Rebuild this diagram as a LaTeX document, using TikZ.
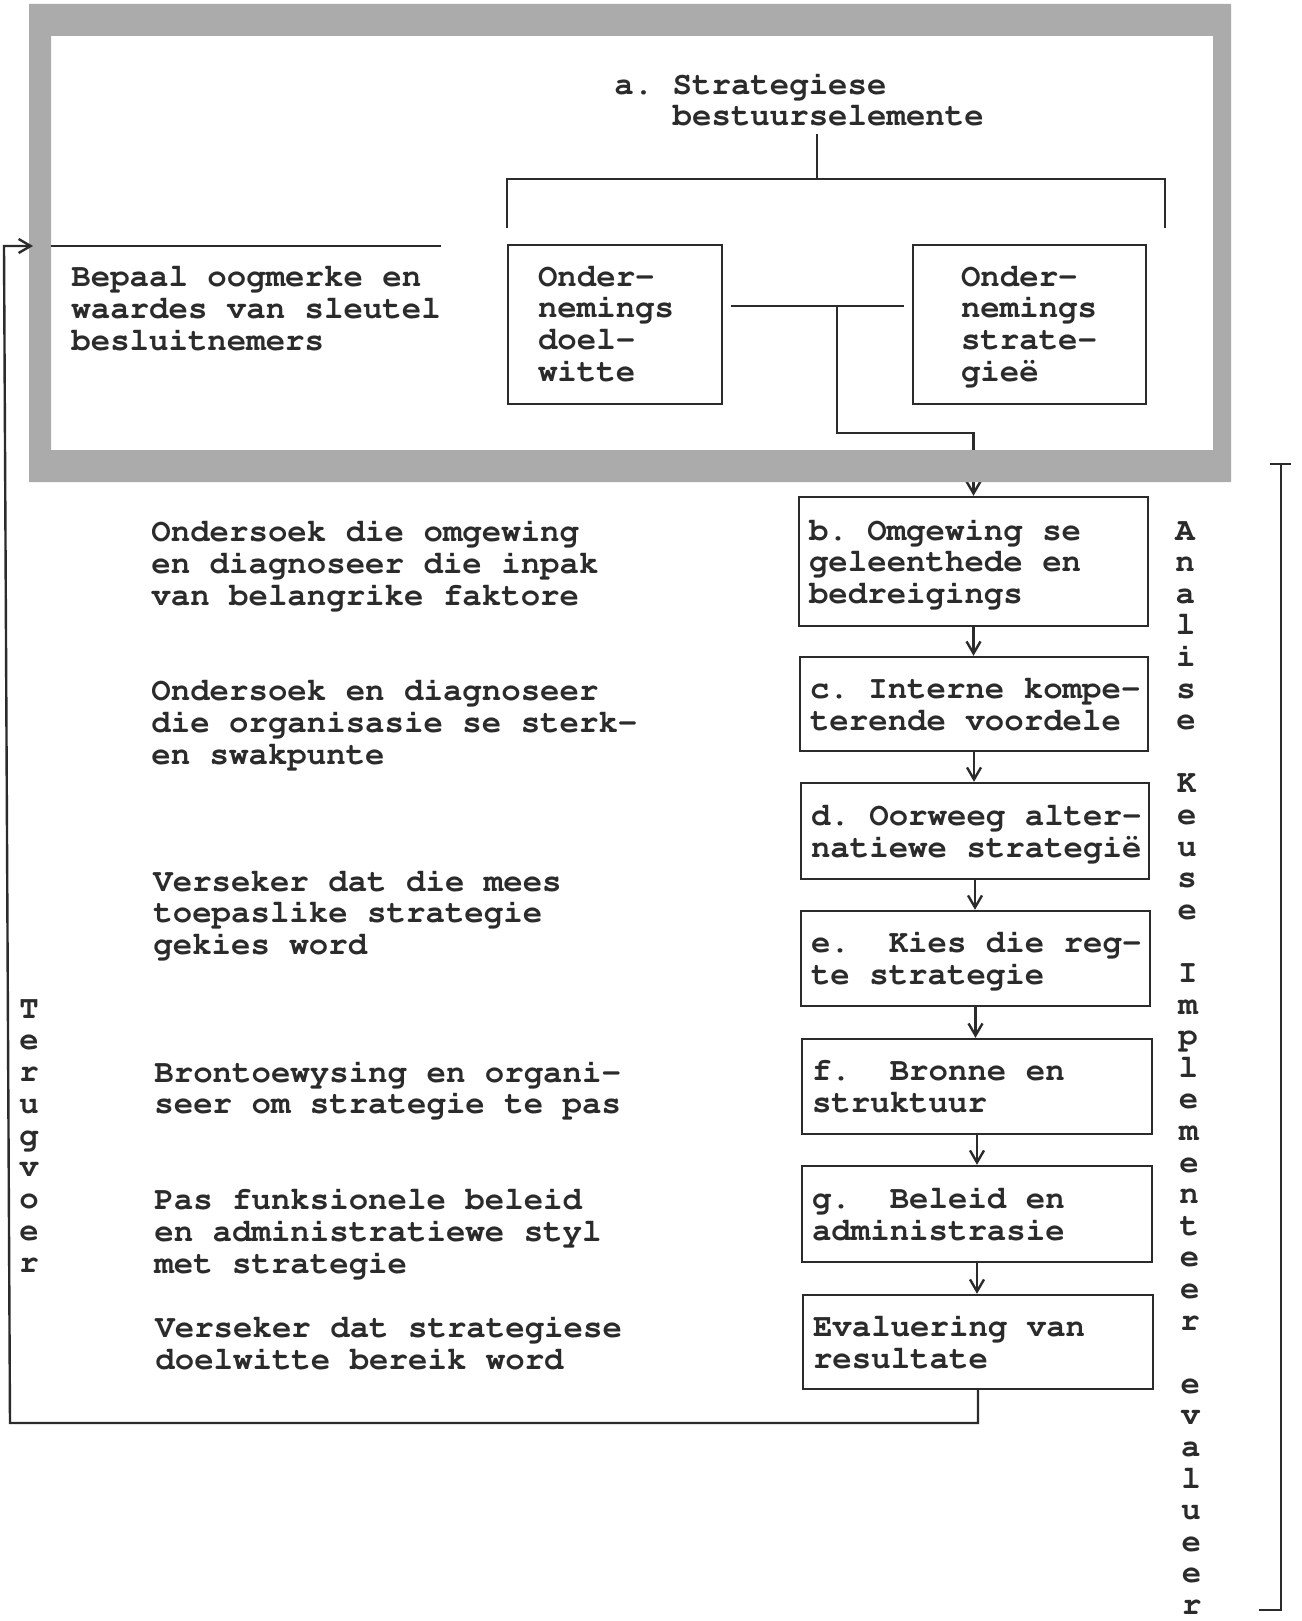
\documentclass[tikz,border=0pt]{standalone}
\usepackage[T1]{fontenc}
\usetikzlibrary{arrows.meta}

\definecolor{ink}{HTML}{2B2B2B}
\definecolor{halftone}{HTML}{ABABAB}
% bold Courier with fixed one-character word spaces
\newcommand\typefont{\fontencoding{T1}\fontfamily{pcr}\fontseries{b}\fontsize{16.2pt}{15.9pt}\selectfont\frenchspacing\spaceskip=0.6em\relax}
% first-line struts that push box text a little lower
\newcommand\boxstrut{\rule{0pt}{15.1pt}}
\newcommand\upstrut{\rule{0pt}{14.1pt}}

\tikzset{
  ln/.style={draw=ink, line width=1.2pt},
  arr/.style={ln, -{Straight Barb[length=6pt,width=7pt]}},
  txt/.style={anchor=north west, inner sep=0pt, align=left, font=\typefont, text=ink},
  stepbox/.style={draw=ink, line width=1.2pt, rectangle, align=flush left, font=\typefont,
    text=ink, inner xsep=5pt, inner ysep=0pt},
  vl/.style={anchor=base, inner sep=0pt, font=\typefont, text=ink},
  frameshade/.style={fill=halftone, even odd rule}
}

\begin{document}
\begin{tikzpicture}[x=0.5pt,y=-0.5pt]
\useasboundingbox (0,0) rectangle (1301,1621);

% upper boxes and title
\node[txt] (ttl) at (614,71.5) {\strut a. Strategiese\\\phantom{a.~}bestuurselemente\strut};
\node[stepbox, minimum width=107pt, minimum height=79.5pt, inner xsep=15pt, text width=77pt]
  (doel) at (615,324.5) {\upstrut Onder-\\nemings\\doel-\\witte\strut};
\node[stepbox, minimum width=116.5pt, minimum height=79.5pt, inner xsep=24pt, text width=68.5pt]
  (strat) at (1029.5,324.5) {\upstrut Onder-\\nemings\\strate-\\gie\"e\strut};
\node[txt] (bep) at (71,264.2) {\strut Bepaal oogmerke en\\waardes van sleutel\\besluitnemers\strut};

% process chain
\node[stepbox, minimum width=174.5pt, minimum height=64.5pt, text width=164.5pt]
  (b) at (973.5,561.5) {\boxstrut b.~Omgewing~se\\geleenthede~en\\bedreigings\strut};
\node[stepbox, minimum width=174pt, minimum height=47pt, text width=164pt]
  (c) at (974,704) {\boxstrut c.~Interne~kompe-\\terende~voordele\strut};
\node[stepbox, minimum width=174pt, minimum height=48pt, text width=164pt]
  (d) at (975,831) {\boxstrut d.~Oorweeg~alter-\\natiewe~strategi\"e\strut};
\node[stepbox, minimum width=174.5pt, minimum height=47.5pt, text width=164.5pt]
  (e) at (975.5,958.5) {\boxstrut e.~~Kies~die~reg-\\te~strategie\strut};
\node[stepbox, minimum width=175pt, minimum height=47.5pt, text width=165pt]
  (f) at (977,1086.5) {\boxstrut f.~~Bronne~en\\struktuur\strut};
\node[stepbox, minimum width=175pt, minimum height=48pt, text width=165pt]
  (g) at (977,1214) {\boxstrut g.~~Beleid~en\\administrasie\strut};
\node[stepbox, minimum width=175pt, minimum height=47pt, text width=165pt]
  (h) at (978,1342) {\boxstrut Evaluering~van\\resultate\strut};

% link from the two upper boxes into the chain (passes under the frame)
\coordinate (jl) at (731,306);
\coordinate (jr) at (904,306);
\coordinate (jn) at (837,306);
\coordinate (kn) at (837,433);
\draw[ln] (jl) -- (jr);
\draw[arr] (jn) -- (kn) -| (b.north);

% halftone frame
\fill[frameshade] (29,4) rectangle (1231,482) (51,36) rectangle (1213,450);

% title bracket
\coordinate (t0) at (817,134);
\coordinate (t1) at (817,179);
\coordinate (tl) at (507,179);
\coordinate (tr) at (1165,179);
\coordinate (tld) at (507,228);
\coordinate (trd) at (1165,228);
\draw[ln] (t0) -- (t1);
\draw[ln] (tld) -- (tl) -- (tr) -- (trd);

% chain arrows
\draw[arr] (b.south) -- (b.south |- c.north);
\draw[arr] (c.south) -- (c.south |- d.north);
\draw[arr] (d.south) -- (d.south |- e.north);
\draw[arr] (e.south) -- (e.south |- f.north);
\draw[arr] (f.south) -- (f.south |- g.north);
\draw[arr] (g.south) -- (g.south |- h.north);

% feedback loop
\coordinate (f1) at (978,1423);
\coordinate (f2) at (10,1423);
\coordinate (f3) at (4,246);
\coordinate (f4) at (33,246);
\draw[arr] (h.south) -- (h.south |- f1) -- (f2) -- (f3) -- (f4);
\coordinate (fin) at (51,246);
\coordinate (fout) at (441,246);
\draw[ln] (fin) -- (fout);

% right bracket
\coordinate (q1) at (1270,464);
\coordinate (q2) at (1291,464);
\coordinate (q3) at (1281,464);
\coordinate (q4) at (1281,1610);
\coordinate (q5) at (1259,1610);
\draw[ln] (q1) -- (q2);
\draw[ln] (q3) -- (q4) -- (q5);

% descriptions on the left
\node[txt] (l1) at (151,519) {\strut Ondersoek die omgewing\\en diagnoseer die inpak\\van belangrike faktore\strut};
\node[txt] (l2) at (151,678) {\strut Ondersoek en diagnoseer\\die organisasie se sterk-\\en swakpunte\strut};
\node[txt] (l3) at (153,868.5) {\strut Verseker dat die mees\\toepaslike strategie\\gekies word\strut};
\node[txt] (l4) at (154,1059.5) {\strut Brontoewysing en organi-\\seer om strategie te pas\strut};
\node[txt] (l5) at (154,1187) {\strut Pas funksionele beleid\\en administratiewe styl\\met strategie\strut};
\node[txt] (l6) at (155,1315) {\strut Verseker dat strategiese\\doelwitte bereik word\strut};

% vertical labels
\foreach \ch [count=\i from 0] in {A,n,a,l,i,s,e}
  \node[vl] (an\i) at ({1185+0.2*\i},{540+31.6*\i}) {\ch};
\foreach \ch [count=\i from 8] in {K,e,u,s,e}
  \node[vl] (ke\i) at ({1185+0.2*\i},{540+31.6*\i}) {\ch};
\foreach \ch [count=\i from 14] in {I,m,p,l,e,m,e,n,t,e,e,r}
  \node[vl] (im\i) at ({1185+0.2*\i},{540+31.6*\i}) {\ch};
\foreach \ch [count=\i from 27] in {e,v,a,l,u,e,e,r}
  \node[vl] (ev\i) at ({1185+0.2*\i},{540+31.6*\i}) {\ch};
\foreach \ch [count=\i from 0] in {T,e,r,u,g,v,o,e,r}
  \node[vl] (tv\i) at (29,{1018+31.75*\i}) {\ch};

\end{tikzpicture}
\end{document}
